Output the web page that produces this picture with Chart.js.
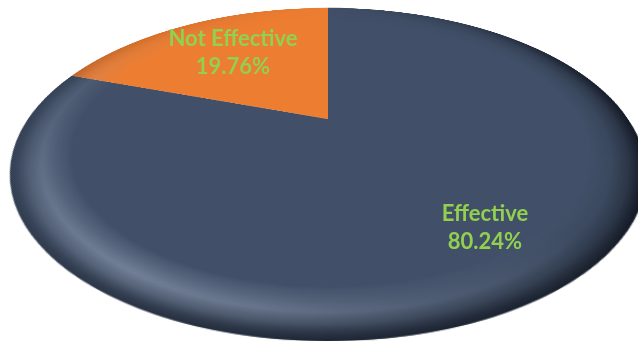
<!DOCTYPE html>
<html>
<head>
<meta charset="utf-8">
<script src="https://cdn.jsdelivr.net/npm/chart.js@4/dist/chart.umd.min.js"></script>
<style>
  html, body { margin:0; padding:0; background:#ffffff; width:638px; height:341px; overflow:hidden; }
  #stage { position:relative; width:638px; height:341px; overflow:hidden; }
  #pieWrap { position:absolute; left:28px; top:-181px; width:600px; height:600px;
             transform: perspective(783px) rotateX(60.4deg); transform-origin:50% 50%; }
  #pieWrap canvas { display:block; }
  .lbl { position:absolute; transform:translateX(-50%); text-align:center; white-space:nowrap;
         font-family:Lato, "Open Sans", sans-serif; font-weight:700; font-size:22px; line-height:28px; color:#92D050; }
</style>
</head>
<body>
<div id="stage">
  <div id="pieWrap"><canvas id="c" width="600" height="600"></canvas></div>
  <div class="lbl" id="lbl0" style="left:485px; top:199px;"></div>
  <div class="lbl" id="lbl1" style="left:233px; top:24px;"></div>
</div>
<script>
const categories = ['Effective', 'Not Effective'];
const shares = [80.24, 19.76];
const sliceColors = ['#415068', '#ED7D31'];

function shadeLayer(W, H, cx, cy, R, conicStops, rgb, radialStops) {
  const oc = document.createElement('canvas');
  oc.width = W; oc.height = H;
  const o = oc.getContext('2d');
  const cg = o.createConicGradient(0, cx, cy);
  conicStops.forEach(([p, v]) => cg.addColorStop(p, 'rgba(' + rgb + ',' + v + ')'));
  o.fillStyle = cg;
  o.beginPath(); o.arc(cx, cy, R, 0, Math.PI * 2); o.fill();
  o.globalCompositeOperation = 'destination-in';
  const rg = o.createRadialGradient(cx, cy, 0, cx, cy, R);
  radialStops.forEach(([p, v]) => rg.addColorStop(p, 'rgba(0,0,0,' + v + ')'));
  o.fillStyle = rg;
  o.fillRect(0, 0, W, H);
  return oc;
}

const bevel = {
  id: 'bevel',
  afterDatasetsDraw(chart) {
    const ctx = chart.ctx;
    const a = chart.getDatasetMeta(0).data[0];
    const cx = a.x, cy = a.y, R = a.outerRadius;
    const W = chart.canvas.width, H = chart.canvas.height;
    const hi = shadeLayer(W, H, cx, cy, R,
      [[0,0],[0.12,0.05],[0.2,0.3],[0.28,0.65],[0.34,0.75],[0.42,0.55],[0.5,0.3],[0.6,0.08],[0.7,0],[1,0]],
      '195,210,235',
      [[0,0],[0.82,0],[0.87,0.3],[0.91,0.6],[0.945,0.4],[0.98,0.08],[1,0]]);
    const lo = shadeLayer(W, H, cx, cy, R,
      [[0,0.85],[0.06,0.9],[0.15,0.75],[0.25,0.65],[0.35,0.4],[0.45,0.25],[0.55,0.2],[0.65,0.08],[0.75,0],[0.85,0.3],[0.93,0.7],[1,0.85]],
      '12,16,24',
      [[0,0],[0.84,0],[0.9,0.15],[0.95,0.45],[0.98,0.8],[1,1]]);
    ctx.save();
    ctx.drawImage(hi, 0, 0);
    ctx.drawImage(lo, 0, 0);
    ctx.restore();
  }
};

new Chart(document.getElementById('c'), {
  type: 'pie',
  data: {
    labels: categories,
    datasets: [{ data: shares, backgroundColor: sliceColors, borderWidth: 0, hoverOffset: 0, hoverBorderWidth: 0 }]
  },
  options: {
    responsive: false,
    animation: false,
    events: [],
    layout: { padding: 0 },
    plugins: { legend: { display: false }, tooltip: { enabled: false } }
  },
  plugins: [bevel]
});

categories.forEach((c, i) => {
  document.getElementById('lbl' + i).innerHTML = c + '<br>' + shares[i].toFixed(2) + '%';
});
</script>
</body>
</html>
